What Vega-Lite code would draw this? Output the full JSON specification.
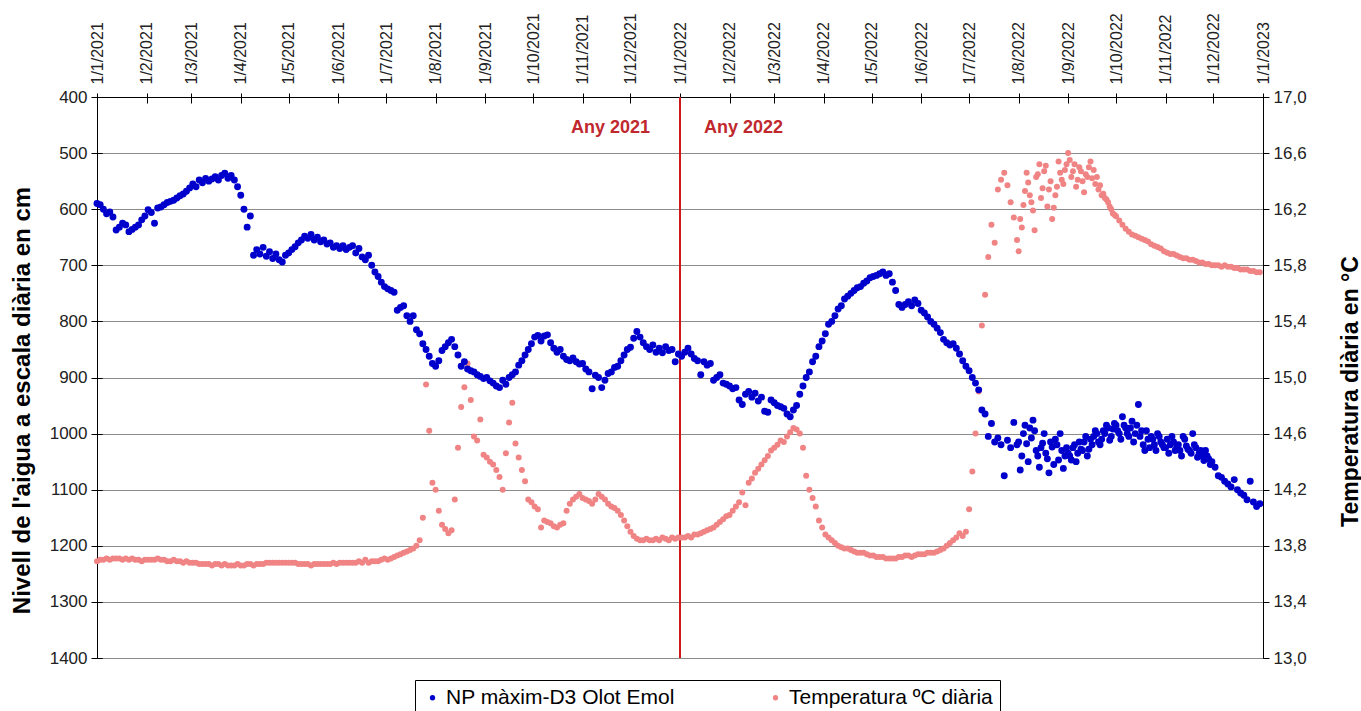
{
  "$schema": "https://vega.github.io/schema/vega-lite/v6.json",
  "autosize": {"type": "none"},
  "width": 1166,
  "height": 561,
  "padding": {"left": 97, "top": 97, "right": 98, "bottom": 53},
  "background": "white",
  "config": {
    "font": "Liberation Sans",
    "view": {"stroke": "#000", "strokeWidth": 1}
  },
  "datasets": {
    "serie": [
      {"d":"2021-01-01","n":590,"t":13.69},{"d":"2021-01-03","n":592,"t":13.70},{"d":"2021-01-05","n":600,"t":13.70},{"d":"2021-01-07","n":608,"t":13.71},
      {"d":"2021-01-09","n":605,"t":13.70},{"d":"2021-01-11","n":614,"t":13.71},{"d":"2021-01-13","n":637,"t":13.71},{"d":"2021-01-15","n":632,"t":13.71},
      {"d":"2021-01-17","n":625,"t":13.70},{"d":"2021-01-19","n":628,"t":13.71},{"d":"2021-01-21","n":640,"t":13.70},{"d":"2021-01-23","n":636,"t":13.71},
      {"d":"2021-01-25","n":632,"t":13.70},{"d":"2021-01-27","n":628,"t":13.70},{"d":"2021-01-29","n":619,"t":13.69},{"d":"2021-01-31","n":612,"t":13.70},
      {"d":"2021-02-02","n":601,"t":13.70},{"d":"2021-02-04","n":606,"t":13.70},{"d":"2021-02-06","n":625,"t":13.70},{"d":"2021-02-08","n":598,"t":13.71},
      {"d":"2021-02-10","n":596,"t":13.70},{"d":"2021-02-12","n":592,"t":13.70},{"d":"2021-02-14","n":588,"t":13.69},{"d":"2021-02-16","n":586,"t":13.69},
      {"d":"2021-02-18","n":584,"t":13.70},{"d":"2021-02-20","n":580,"t":13.69},{"d":"2021-02-22","n":576,"t":13.69},{"d":"2021-02-24","n":573,"t":13.68},
      {"d":"2021-02-26","n":568,"t":13.69},{"d":"2021-02-28","n":562,"t":13.68},
      {"d":"2021-03-02","n":555,"t":13.68},{"d":"2021-03-04","n":560,"t":13.68},{"d":"2021-03-06","n":548,"t":13.67},{"d":"2021-03-08","n":553,"t":13.67},
      {"d":"2021-03-10","n":545,"t":13.67},{"d":"2021-03-12","n":550,"t":13.67},{"d":"2021-03-14","n":546,"t":13.66},{"d":"2021-03-16","n":542,"t":13.67},
      {"d":"2021-03-18","n":548,"t":13.67},{"d":"2021-03-20","n":540,"t":13.66},{"d":"2021-03-22","n":536,"t":13.67},{"d":"2021-03-24","n":545,"t":13.66},
      {"d":"2021-03-26","n":540,"t":13.66},{"d":"2021-03-28","n":548,"t":13.66},{"d":"2021-03-30","n":560,"t":13.67},
      {"d":"2021-04-01","n":575,"t":13.66},{"d":"2021-04-03","n":600,"t":13.66},{"d":"2021-04-05","n":632,"t":13.67},{"d":"2021-04-07","n":612,"t":13.67},
      {"d":"2021-04-09","n":682,"t":13.66},{"d":"2021-04-11","n":672,"t":13.67},{"d":"2021-04-13","n":680,"t":13.67},{"d":"2021-04-15","n":668,"t":13.67},
      {"d":"2021-04-17","n":684,"t":13.68},{"d":"2021-04-19","n":676,"t":13.68},{"d":"2021-04-21","n":688,"t":13.68},{"d":"2021-04-23","n":680,"t":13.68},
      {"d":"2021-04-25","n":690,"t":13.68},{"d":"2021-04-27","n":694,"t":13.68},{"d":"2021-04-29","n":682,"t":13.68},
      {"d":"2021-05-01","n":678,"t":13.68},{"d":"2021-05-03","n":672,"t":13.68},{"d":"2021-05-05","n":667,"t":13.68},{"d":"2021-05-07","n":660,"t":13.67},
      {"d":"2021-05-09","n":655,"t":13.67},{"d":"2021-05-11","n":648,"t":13.67},{"d":"2021-05-13","n":652,"t":13.67},{"d":"2021-05-15","n":645,"t":13.66},
      {"d":"2021-05-17","n":655,"t":13.67},{"d":"2021-05-19","n":650,"t":13.67},{"d":"2021-05-21","n":658,"t":13.67},{"d":"2021-05-23","n":655,"t":13.67},
      {"d":"2021-05-25","n":662,"t":13.67},{"d":"2021-05-27","n":660,"t":13.67},{"d":"2021-05-29","n":668,"t":13.68},{"d":"2021-05-31","n":665,"t":13.67},
      {"d":"2021-06-02","n":670,"t":13.68},{"d":"2021-06-04","n":665,"t":13.68},{"d":"2021-06-06","n":672,"t":13.68},{"d":"2021-06-08","n":668,"t":13.68},
      {"d":"2021-06-10","n":665,"t":13.68},{"d":"2021-06-12","n":678,"t":13.68},{"d":"2021-06-14","n":670,"t":13.69},{"d":"2021-06-16","n":685,"t":13.68},
      {"d":"2021-06-18","n":690,"t":13.70},{"d":"2021-06-20","n":682,"t":13.68},{"d":"2021-06-22","n":700,"t":13.69},{"d":"2021-06-24","n":712,"t":13.69},
      {"d":"2021-06-26","n":720,"t":13.69},{"d":"2021-06-28","n":730,"t":13.70},{"d":"2021-06-30","n":738,"t":13.71},
      {"d":"2021-07-02","n":742,"t":13.70},{"d":"2021-07-04","n":745,"t":13.71},{"d":"2021-07-06","n":748,"t":13.72},{"d":"2021-07-08","n":780,"t":13.73},
      {"d":"2021-07-10","n":775,"t":13.74},{"d":"2021-07-12","n":772,"t":13.75},{"d":"2021-07-14","n":790,"t":13.76},{"d":"2021-07-16","n":800,"t":13.77},
      {"d":"2021-07-18","n":790,"t":13.78},{"d":"2021-07-20","n":815,"t":13.80},{"d":"2021-07-22","n":822,"t":13.84},{"d":"2021-07-24","n":840,"t":14.00},
      {"d":"2021-07-26","n":850,"t":14.95},{"d":"2021-07-28","n":862,"t":14.62},{"d":"2021-07-30","n":875,"t":14.25},
      {"d":"2021-08-01","n":880,"t":14.20},{"d":"2021-08-03","n":870,"t":14.05},{"d":"2021-08-05","n":852,"t":13.95},{"d":"2021-08-07","n":845,"t":13.92},
      {"d":"2021-08-09","n":838,"t":13.89},{"d":"2021-08-11","n":832,"t":13.91},{"d":"2021-08-13","n":845,"t":14.13},{"d":"2021-08-15","n":860,"t":14.50},
      {"d":"2021-08-17","n":880,"t":14.79},{"d":"2021-08-19","n":872,"t":14.93},{"d":"2021-08-21","n":885,"t":15.10},{"d":"2021-08-23","n":888,"t":14.84},
      {"d":"2021-08-25","n":890,"t":14.58},{"d":"2021-08-27","n":895,"t":14.55},{"d":"2021-08-29","n":898,"t":14.70},{"d":"2021-08-31","n":902,"t":14.45},
      {"d":"2021-09-02","n":900,"t":14.43},{"d":"2021-09-04","n":906,"t":14.40},{"d":"2021-09-06","n":910,"t":14.38},{"d":"2021-09-08","n":915,"t":14.34},
      {"d":"2021-09-10","n":918,"t":14.29},{"d":"2021-09-12","n":905,"t":14.20},{"d":"2021-09-14","n":912,"t":14.46},{"d":"2021-09-16","n":900,"t":14.68},
      {"d":"2021-09-18","n":895,"t":14.82},{"d":"2021-09-20","n":890,"t":14.53},{"d":"2021-09-22","n":878,"t":14.43},{"d":"2021-09-24","n":870,"t":14.34},
      {"d":"2021-09-26","n":860,"t":14.26},{"d":"2021-09-28","n":850,"t":14.13},{"d":"2021-09-30","n":840,"t":14.11},
      {"d":"2021-10-02","n":828,"t":14.08},{"d":"2021-10-04","n":825,"t":14.06},{"d":"2021-10-06","n":835,"t":13.93},{"d":"2021-10-08","n":826,"t":13.98},
      {"d":"2021-10-10","n":824,"t":13.97},{"d":"2021-10-12","n":838,"t":13.96},{"d":"2021-10-14","n":848,"t":13.94},{"d":"2021-10-16","n":855,"t":13.93},
      {"d":"2021-10-18","n":850,"t":13.95},{"d":"2021-10-20","n":862,"t":13.96},{"d":"2021-10-22","n":868,"t":14.05},{"d":"2021-10-24","n":870,"t":14.10},
      {"d":"2021-10-26","n":865,"t":14.13},{"d":"2021-10-28","n":872,"t":14.15},{"d":"2021-10-30","n":876,"t":14.17},
      {"d":"2021-11-01","n":875,"t":14.14},{"d":"2021-11-03","n":885,"t":14.13},{"d":"2021-11-05","n":890,"t":14.12},{"d":"2021-11-07","n":920,"t":14.10},
      {"d":"2021-11-09","n":896,"t":14.13},{"d":"2021-11-11","n":900,"t":14.17},{"d":"2021-11-13","n":918,"t":14.15},{"d":"2021-11-15","n":905,"t":14.13},
      {"d":"2021-11-17","n":893,"t":14.10},{"d":"2021-11-19","n":890,"t":14.08},{"d":"2021-11-21","n":882,"t":14.07},{"d":"2021-11-23","n":880,"t":14.05},
      {"d":"2021-11-25","n":870,"t":14.02},{"d":"2021-11-27","n":860,"t":13.98},{"d":"2021-11-29","n":850,"t":13.94},
      {"d":"2021-12-01","n":846,"t":13.90},{"d":"2021-12-03","n":830,"t":13.87},{"d":"2021-12-05","n":818,"t":13.85},{"d":"2021-12-07","n":828,"t":13.84},
      {"d":"2021-12-09","n":838,"t":13.84},{"d":"2021-12-11","n":845,"t":13.85},{"d":"2021-12-13","n":850,"t":13.84},{"d":"2021-12-15","n":842,"t":13.84},
      {"d":"2021-12-17","n":855,"t":13.85},{"d":"2021-12-19","n":848,"t":13.84},{"d":"2021-12-21","n":856,"t":13.86},{"d":"2021-12-23","n":845,"t":13.85},
      {"d":"2021-12-25","n":852,"t":13.84},{"d":"2021-12-27","n":850,"t":13.86},{"d":"2021-12-29","n":872,"t":13.85},{"d":"2021-12-31","n":858,"t":13.86},
      {"d":"2022-01-02","n":862,"t":13.86},{"d":"2022-01-04","n":855,"t":13.86},{"d":"2022-01-06","n":848,"t":13.87},{"d":"2022-01-08","n":858,"t":13.86},
      {"d":"2022-01-10","n":866,"t":13.88},{"d":"2022-01-12","n":870,"t":13.88},{"d":"2022-01-14","n":895,"t":13.89},{"d":"2022-01-16","n":872,"t":13.90},
      {"d":"2022-01-18","n":878,"t":13.91},{"d":"2022-01-20","n":875,"t":13.92},{"d":"2022-01-22","n":905,"t":13.93},{"d":"2022-01-24","n":900,"t":13.95},
      {"d":"2022-01-26","n":895,"t":13.97},{"d":"2022-01-28","n":910,"t":13.99},{"d":"2022-01-30","n":912,"t":14.01},
      {"d":"2022-02-01","n":915,"t":14.02},{"d":"2022-02-03","n":920,"t":14.05},{"d":"2022-02-05","n":918,"t":14.08},{"d":"2022-02-07","n":940,"t":14.11},
      {"d":"2022-02-09","n":948,"t":14.18},{"d":"2022-02-11","n":930,"t":14.09},{"d":"2022-02-13","n":925,"t":14.25},{"d":"2022-02-15","n":935,"t":14.28},
      {"d":"2022-02-17","n":928,"t":14.32},{"d":"2022-02-19","n":942,"t":14.35},{"d":"2022-02-21","n":935,"t":14.38},{"d":"2022-02-23","n":960,"t":14.41},
      {"d":"2022-02-25","n":962,"t":14.44},{"d":"2022-02-27","n":940,"t":14.48},
      {"d":"2022-03-01","n":945,"t":14.50},{"d":"2022-03-03","n":950,"t":14.52},{"d":"2022-03-05","n":952,"t":14.55},{"d":"2022-03-07","n":955,"t":14.54},
      {"d":"2022-03-09","n":965,"t":14.58},{"d":"2022-03-11","n":970,"t":14.61},{"d":"2022-03-13","n":958,"t":14.64},{"d":"2022-03-15","n":950,"t":14.63},
      {"d":"2022-03-17","n":930,"t":14.60},{"d":"2022-03-19","n":915,"t":14.50},{"d":"2022-03-21","n":900,"t":14.30},{"d":"2022-03-23","n":890,"t":14.20},
      {"d":"2022-03-25","n":872,"t":14.14},{"d":"2022-03-27","n":862,"t":14.08},{"d":"2022-03-29","n":845,"t":13.98},{"d":"2022-03-31","n":835,"t":13.93},
      {"d":"2022-04-02","n":822,"t":13.88},{"d":"2022-04-04","n":805,"t":13.86},{"d":"2022-04-06","n":800,"t":13.84},{"d":"2022-04-08","n":790,"t":13.82},
      {"d":"2022-04-10","n":778,"t":13.80},{"d":"2022-04-12","n":772,"t":13.79},{"d":"2022-04-14","n":760,"t":13.78},{"d":"2022-04-16","n":755,"t":13.78},
      {"d":"2022-04-18","n":750,"t":13.77},{"d":"2022-04-20","n":745,"t":13.76},{"d":"2022-04-22","n":740,"t":13.75},{"d":"2022-04-24","n":738,"t":13.75},
      {"d":"2022-04-26","n":732,"t":13.75},{"d":"2022-04-28","n":728,"t":13.74},{"d":"2022-04-30","n":722,"t":13.73},
      {"d":"2022-05-02","n":720,"t":13.73},{"d":"2022-05-04","n":718,"t":13.72},{"d":"2022-05-06","n":715,"t":13.72},{"d":"2022-05-08","n":712,"t":13.72},
      {"d":"2022-05-10","n":718,"t":13.71},{"d":"2022-05-12","n":715,"t":13.71},{"d":"2022-05-14","n":730,"t":13.71},{"d":"2022-05-16","n":745,"t":13.71},
      {"d":"2022-05-18","n":770,"t":13.72},{"d":"2022-05-20","n":775,"t":13.72},{"d":"2022-05-22","n":770,"t":13.73},{"d":"2022-05-24","n":765,"t":13.73},
      {"d":"2022-05-26","n":772,"t":13.72},{"d":"2022-05-28","n":762,"t":13.73},{"d":"2022-05-30","n":768,"t":13.74},
      {"d":"2022-06-01","n":780,"t":13.74},{"d":"2022-06-03","n":785,"t":13.74},{"d":"2022-06-05","n":792,"t":13.75},{"d":"2022-06-07","n":800,"t":13.75},
      {"d":"2022-06-09","n":805,"t":13.75},{"d":"2022-06-11","n":812,"t":13.76},{"d":"2022-06-13","n":820,"t":13.77},{"d":"2022-06-15","n":832,"t":13.78},
      {"d":"2022-06-17","n":838,"t":13.80},{"d":"2022-06-19","n":842,"t":13.82},{"d":"2022-06-21","n":840,"t":13.84},{"d":"2022-06-23","n":848,"t":13.86},
      {"d":"2022-06-25","n":858,"t":13.89},{"d":"2022-06-27","n":870,"t":13.87},{"d":"2022-06-29","n":880,"t":13.90},
      {"d":"2022-07-01","n":888,"t":14.06},{"d":"2022-07-03","n":900,"t":14.33},{"d":"2022-07-05","n":910,"t":14.60},{"d":"2022-07-07","n":922,"t":14.90},
      {"d":"2022-07-09","n":958,"t":15.37},{"d":"2022-07-11","n":965,"t":15.59},{"d":"2022-07-13","n":1005,"t":15.86},{"d":"2022-07-15","n":982,"t":16.09},
      {"d":"2022-07-17","n":1015,"t":15.96},{"d":"2022-07-19","n":1008,"t":16.34},{"d":"2022-07-21","n":1020,"t":16.41},{"d":"2022-07-23","n":1075,"t":16.46},
      {"d":"2022-07-25","n":1012,"t":16.37},{"d":"2022-07-27","n":1025,"t":16.25},{"d":"2022-07-29","n":980,"t":16.14},{"d":"2022-07-31","n":1020,"t":15.98},
      {"d":"2022-08-02","n":1065,"t":16.13},{"d":"2022-08-04","n":1000,"t":16.23},{"d":"2022-08-06","n":1018,"t":16.46},{"d":"2022-08-08","n":990,"t":16.30},
      {"d":"2022-08-10","n":976,"t":16.19},{"d":"2022-08-12","n":1030,"t":16.43},{"d":"2022-08-14","n":1060,"t":16.52},{"d":"2022-08-16","n":1017,"t":16.35},
      {"d":"2022-08-18","n":1035,"t":16.51},{"d":"2022-08-20","n":1070,"t":16.34},{"d":"2022-08-22","n":1024,"t":16.13},{"d":"2022-08-24","n":1010,"t":16.30},
      {"d":"2022-08-26","n":1047,"t":16.54},{"d":"2022-08-28","n":1030,"t":16.41},{"d":"2022-08-30","n":1040,"t":16.48},
      {"d":"2022-09-01","n":1035,"t":16.60},{"d":"2022-09-03","n":1047,"t":16.43},{"d":"2022-09-05","n":1020,"t":16.52},{"d":"2022-09-07","n":1035,"t":16.41},
      {"d":"2022-09-09","n":1028,"t":16.47},{"d":"2022-09-11","n":1015,"t":16.32},{"d":"2022-09-13","n":1040,"t":16.43},{"d":"2022-09-15","n":1010,"t":16.54},
      {"d":"2022-09-17","n":1005,"t":16.48},{"d":"2022-09-19","n":1000,"t":16.43},{"d":"2022-09-21","n":1020,"t":16.37},{"d":"2022-09-23","n":995,"t":16.31},
      {"d":"2022-09-25","n":985,"t":16.27},{"d":"2022-09-27","n":1012,"t":16.22},{"d":"2022-09-29","n":992,"t":16.17},
      {"d":"2022-10-01","n":985,"t":16.15},{"d":"2022-10-03","n":1000,"t":16.12},{"d":"2022-10-05","n":970,"t":16.09},{"d":"2022-10-07","n":990,"t":16.06},
      {"d":"2022-10-09","n":1005,"t":16.04},{"d":"2022-10-11","n":978,"t":16.02},{"d":"2022-10-13","n":1000,"t":16.01},{"d":"2022-10-15","n":948,"t":16.00},
      {"d":"2022-10-17","n":995,"t":15.99},{"d":"2022-10-19","n":1030,"t":15.98},{"d":"2022-10-21","n":1010,"t":15.97},{"d":"2022-10-23","n":1005,"t":15.95},
      {"d":"2022-10-25","n":1020,"t":15.94},{"d":"2022-10-27","n":1000,"t":15.93},{"d":"2022-10-29","n":1015,"t":15.92},{"d":"2022-10-31","n":1025,"t":15.90},
      {"d":"2022-11-02","n":1010,"t":15.89},{"d":"2022-11-04","n":1020,"t":15.88},{"d":"2022-11-06","n":1015,"t":15.88},{"d":"2022-11-08","n":1025,"t":15.87},
      {"d":"2022-11-10","n":1030,"t":15.86},{"d":"2022-11-12","n":1005,"t":15.85},{"d":"2022-11-14","n":1022,"t":15.85},{"d":"2022-11-16","n":1030,"t":15.84},
      {"d":"2022-11-18","n":1000,"t":15.84},{"d":"2022-11-20","n":1025,"t":15.83},{"d":"2022-11-22","n":1035,"t":15.82},{"d":"2022-11-24","n":1040,"t":15.82},
      {"d":"2022-11-26","n":1030,"t":15.81},{"d":"2022-11-28","n":1045,"t":15.81},{"d":"2022-11-30","n":1050,"t":15.80},
      {"d":"2022-12-02","n":1060,"t":15.80},{"d":"2022-12-04","n":1075,"t":15.80},{"d":"2022-12-06","n":1078,"t":15.79},{"d":"2022-12-08","n":1085,"t":15.80},
      {"d":"2022-12-10","n":1090,"t":15.79},{"d":"2022-12-12","n":1095,"t":15.79},{"d":"2022-12-14","n":1082,"t":15.78},{"d":"2022-12-16","n":1100,"t":15.78},
      {"d":"2022-12-18","n":1106,"t":15.77},{"d":"2022-12-20","n":1110,"t":15.77},{"d":"2022-12-22","n":1118,"t":15.77},{"d":"2022-12-24","n":1085,"t":15.76},
      {"d":"2022-12-26","n":1122,"t":15.76},{"d":"2022-12-28","n":1130,"t":15.75},{"d":"2022-12-30","n":1125,"t":15.75},
      {"d":"2022-08-01","n":1015,"t":15.90},{"d":"2022-08-03","n":1040,"t":16.07},{"d":"2022-08-05","n":985,"t":16.33},{"d":"2022-08-07","n":1050,"t":16.39},
      {"d":"2022-08-09","n":1008,"t":16.25},{"d":"2022-08-11","n":995,"t":16.05},{"d":"2022-08-13","n":1040,"t":16.45},{"d":"2022-08-15","n":1025,"t":16.28},
      {"d":"2022-08-17","n":1000,"t":16.47},{"d":"2022-08-19","n":1045,"t":16.22},{"d":"2022-08-21","n":1015,"t":16.40},{"d":"2022-08-23","n":1055,"t":16.21},
      {"d":"2022-08-25","n":1020,"t":16.36},{"d":"2022-08-27","n":1000,"t":16.46},{"d":"2022-08-29","n":1062,"t":16.38},{"d":"2022-08-31","n":1025,"t":16.52},
      {"d":"2022-09-02","n":1040,"t":16.55},{"d":"2022-09-04","n":1025,"t":16.47},{"d":"2022-09-06","n":1050,"t":16.36},{"d":"2022-09-08","n":1015,"t":16.50},
      {"d":"2022-09-10","n":1030,"t":16.40},{"d":"2022-09-12","n":1005,"t":16.45},{"d":"2022-09-14","n":1028,"t":16.50},{"d":"2022-09-16","n":1020,"t":16.42},
      {"d":"2022-09-18","n":995,"t":16.38},{"d":"2022-09-20","n":1015,"t":16.34},{"d":"2022-09-22","n":1010,"t":16.30},{"d":"2022-09-24","n":1000,"t":16.28},
      {"d":"2022-09-26","n":990,"t":16.25},{"d":"2022-09-28","n":1005,"t":16.20},{"d":"2022-09-30","n":982,"t":16.16},
      {"d":"2022-10-02","n":995},{"d":"2022-10-04","n":1010},{"d":"2022-10-06","n":985},{"d":"2022-10-08","n":1000},
      {"d":"2022-10-10","n":990},{"d":"2022-10-12","n":1015},{"d":"2022-10-14","n":985},{"d":"2022-10-16","n":1005},
      {"d":"2022-10-18","n":1020},{"d":"2022-10-20","n":995},{"d":"2022-10-22","n":1025},{"d":"2022-10-24","n":1010},
      {"d":"2022-10-26","n":1030},{"d":"2022-10-28","n":1005},{"d":"2022-10-30","n":1020},
      {"d":"2022-11-01","n":1025},{"d":"2022-11-03","n":1035},{"d":"2022-11-05","n":1005},{"d":"2022-11-07","n":1030},
      {"d":"2022-11-09","n":1020},{"d":"2022-11-11","n":1040},{"d":"2022-11-13","n":1010},{"d":"2022-11-15","n":1028},
      {"d":"2022-11-17","n":1035},{"d":"2022-11-19","n":1020},{"d":"2022-11-21","n":1042},{"d":"2022-11-23","n":1030},
      {"d":"2022-11-25","n":1048},{"d":"2022-11-27","n":1040},{"d":"2022-11-29","n":1055}
    ],
    "anys": [
      {"d":"2022-01-01","n":455,"etiqueta":"Any 2021","costat":"abans"},
      {"d":"2022-01-01","n":455,"etiqueta":"Any 2022","costat":"despres"}
    ]
  },
  "layer": [
    {
      "layer": [
        {
          "data": {"name": "anys"},
          "transform": [{"filter": "datum.costat === 'abans'"}],
          "mark": {"type": "rule", "color": "#cc1a1a", "strokeWidth": 2},
          "encoding": {
            "x": {"field": "d", "type": "temporal",
                  "scale": {"type": "utc", "domain": [{"year": 2021, "month": 1, "date": 1, "utc": true}, {"year": 2023, "month": 1, "date": 1, "utc": true}]},
                  "axis": {"orient": "top", "tickCount": {"interval": "month", "step": 1}, "labels": false, "domain": false,
                           "grid": false, "title": null, "tickSize": -6, "tickColor": "#000"}}
          }
        },
        {
          "data": {"name": "serie"},
          "mark": {"type": "circle", "size": 36, "opacity": 1},
          "encoding": {
            "x": {"field": "d", "type": "temporal",
                  "scale": {"type": "utc", "domain": [{"year": 2021, "month": 1, "date": 1, "utc": true}, {"year": 2023, "month": 1, "date": 1, "utc": true}]}},
            "y": {"field": "t", "type": "quantitative",
                  "scale": {"domain": [13, 17], "zero": false, "nice": false},
                  "axis": {
                    "orient": "right",
                    "values": [13, 13.4, 13.8, 14.2, 14.6, 15, 15.4, 15.8, 16.2, 16.6, 17],
                    "labelExpr": "replace(format(datum.value, '.1f'), '.', ',')",
                    "labelFontSize": 17, "labelColor": "#222", "labelPadding": 4,
                    "tickSize": 6, "tickColor": "#000", "domainColor": "#000", "grid": false,
                    "title": "Temperatura diària en °C",
                    "titleFontSize": 23, "titleFontWeight": "bold", "titleColor": "#000",
                    "titleAngle": 270, "titleX": 87, "titleY": 294,
                    "titleAlign": "center", "titleBaseline": "middle"
                  }},
            "color": {"datum": "Temperatura ºC diària", "type": "nominal"}
          }
        }
      ]
    },
    {
      "resolve": {"axis": {"y": "independent"}},
      "layer": [
        {
          "data": {"name": "anys"},
          "transform": [{"filter": "datum.costat === 'abans'"}],
          "mark": {"type": "text", "align": "right", "baseline": "middle", "dx": -30, "fontSize": 18, "fontWeight": "bold", "color": "#c0282d"},
          "encoding": {
            "x": {"field": "d", "type": "temporal"},
            "y": {"field": "n", "type": "quantitative",
                  "axis": {"orient": "left", "values": [400, 500, 600, 700, 800, 900, 1000, 1100, 1200, 1300, 1400],
                           "labels": false, "domain": false, "grid": false, "title": null, "tickSize": -5, "tickColor": "#000"}},
            "text": {"field": "etiqueta"}
          }
        },
        {
          "data": {"name": "anys"},
          "transform": [{"filter": "datum.costat === 'despres'"}],
          "mark": {"type": "text", "align": "left", "baseline": "middle", "dx": 24, "fontSize": 18, "fontWeight": "bold", "color": "#c0282d"},
          "encoding": {
            "x": {"field": "d", "type": "temporal"},
            "y": {"field": "n", "type": "quantitative",
                  "axis": {"orient": "left", "values": [400, 500, 600, 700, 800, 900, 1000, 1100, 1200, 1300, 1400],
                           "labels": false, "domain": false, "grid": false, "title": null, "tickSize": -5, "tickColor": "#000"}},
            "text": {"field": "etiqueta"}
          }
        },
        {
          "data": {"name": "serie"},
          "mark": {"type": "circle", "size": 48, "opacity": 1},
          "encoding": {
            "x": {"field": "d", "type": "temporal",
                  "scale": {"type": "utc", "domain": [{"year": 2021, "month": 1, "date": 1, "utc": true}, {"year": 2023, "month": 1, "date": 1, "utc": true}]},
                  "axis": {
                    "orient": "top",
                    "tickCount": {"interval": "month", "step": 1},
                    "labelExpr": "utcFormat(datum.value, '%-d/%-m/%Y')",
                    "labelAngle": 270, "labelAlign": "left", "labelBaseline": "middle",
                    "labelFontSize": 16, "labelColor": "#222", "labelPadding": 9,
                    "labelOverlap": false, "labelFlush": false, "labelBound": false,
                    "tickSize": 4, "tickColor": "#000", "domainColor": "#000",
                    "grid": false, "title": null
                  }},
            "y": {"field": "n", "type": "quantitative",
                  "scale": {"domain": [400, 1400], "reverse": true, "zero": false, "nice": false},
                  "axis": {
                    "orient": "left",
                    "values": [400, 500, 600, 700, 800, 900, 1000, 1100, 1200, 1300, 1400],
                    "format": "d",
                    "labelFontSize": 17, "labelColor": "#222", "labelPadding": 4,
                    "tickSize": 6, "tickColor": "#000", "domainColor": "#000",
                    "grid": true, "gridColor": "#8c8c8c", "gridWidth": 1,
                    "title": "Nivell de l'aigua a escala diària en cm",
                    "titleFontSize": 24, "titleFontWeight": "bold", "titleColor": "#000",
                    "titleAngle": 270, "titleX": -75, "titleY": 303,
                    "titleAlign": "center", "titleBaseline": "middle"
                  }},
            "color": {"datum": "NP màxim-D3 Olot Emol", "type": "nominal",
                      "scale": {"domain": ["NP màxim-D3 Olot Emol", "Temperatura ºC diària"], "range": ["#0000cc", "#f08484"]},
                      "legend": {
                        "orient": "none", "legendX": 318, "legendY": 583,
                        "direction": "horizontal", "columns": 2, "gridAlign": "all", "title": null,
                        "strokeColor": "#000", "fillColor": "#fff", "padding": 7,
                        "labelFontSize": 21, "labelColor": "#000", "labelOffset": 3, "labelLimit": 400,
                        "symbolType": "circle", "symbolSize": 28, "columnPadding": 90
                      }}
          }
        }
      ]
    }
  ],
  "resolve": {"scale": {"y": "independent"}, "axis": {"x": "independent"}}
}
